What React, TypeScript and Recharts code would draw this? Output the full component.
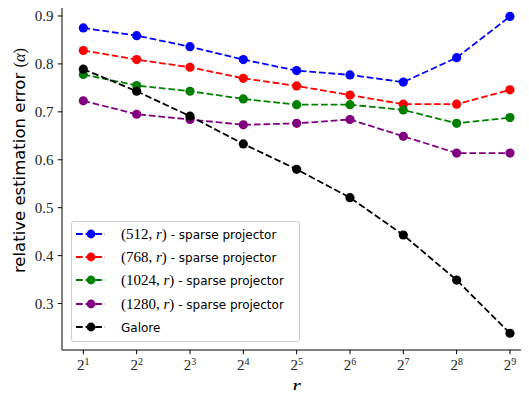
import React from 'react';
import { LineChart, Line, XAxis, YAxis, Legend } from 'recharts';

const exponents = [1, 2, 3, 4, 5, 6, 7, 8, 9];
const yTicks = [0.3, 0.4, 0.5, 0.6, 0.7, 0.8, 0.9];
const sparse512 = [0.875, 0.859, 0.836, 0.809, 0.786, 0.777, 0.762, 0.813, 0.899];
const sparse768 = [0.828, 0.809, 0.793, 0.770, 0.754, 0.735, 0.716, 0.716, 0.746];
const sparse1024 = [0.778, 0.755, 0.743, 0.727, 0.715, 0.715, 0.704, 0.676, 0.688];
const sparse1280 = [0.723, 0.695, 0.684, 0.673, 0.676, 0.684, 0.649, 0.614, 0.614];
const galore = [0.789, 0.743, 0.691, 0.633, 0.580, 0.521, 0.443, 0.349, 0.238];

const seriesKeys = ['s512', 's768', 's1024', 's1280', 'galore'];
const seriesDims = ['512', '768', '1024', '1280', ''];
const seriesColors = ['#0000ff', '#ff0000', '#008000', '#800080', '#000000'];
const seriesValues = [sparse512, sparse768, sparse1024, sparse1280, galore];

const data = exponents.map((e, i) => {
  const row: Record<string, number> = { e };
  seriesKeys.forEach((k, j) => {
    row[k] = seriesValues[j][i];
  });
  return row;
});

const Y_DOMAIN: [number, number] = [0.2031, 0.93125];
const X_DOMAIN: [number, number] = [0.6, 9.4];
const DASH = '6.7 2.9';
const SERIF = '"Liberation Serif", "DejaVu Serif", serif';
const SANS = '"DejaVu Sans", sans-serif';

const XTick = (props: any) => {
  const { x, y, payload } = props;
  return (
    <text x={x} y={y + 11.6} textAnchor="middle" fontFamily={SERIF} fontSize={15} fill="#222">
      <tspan>2</tspan>
      <tspan dy={-5.5} fontSize={10}>{payload.value}</tspan>
    </text>
  );
};

const YTick = (props: any) => {
  const { x, y, payload } = props;
  return (
    <text x={x} y={y + 5} textAnchor="end" fontFamily={SERIF} fontSize={15} fill="#222">
      {payload.value.toFixed(1)}
    </text>
  );
};

const renderLegend = () => (
  <div
    style={{
      boxSizing: 'border-box',
      width: 229,
      height: 121,
      border: '1px solid #cccccc',
      borderRadius: 3,
      background: 'rgba(255,255,255,0.8)',
      paddingLeft: 4,
      paddingTop: 0,
    }}
  >
    {seriesKeys.map((k, i) => (
      <div key={k} style={{ height: 23.4, display: 'flex', alignItems: 'center' }}>
        <svg width={29.3} height={12} style={{ display: 'block', flex: 'none' }}>
          <line x1={0} x2={29.3} y1={6} y2={6} stroke={seriesColors[i]} strokeWidth={1.8} strokeDasharray={DASH} />
          <circle cx={15} cy={6} r={4.4} fill={seriesColors[i]} />
        </svg>
        <span style={{ marginLeft: 15.7, whiteSpace: 'pre', color: '#000', lineHeight: 1 }}>
          {seriesDims[i] ? (
            <>
              <span style={{ fontFamily: SERIF, fontSize: 15 }}>
                ({seriesDims[i]}, <i>r</i>)
              </span>
              <span style={{ fontFamily: SANS, fontSize: 12 }}>{' - sparse projector'}</span>
            </>
          ) : (
            <span style={{ fontFamily: SANS, fontSize: 12 }}>Galore</span>
          )}
        </span>
      </div>
    ))}
  </div>
);

export default function App() {
  return (
    <div style={{ width: 529, height: 398, overflow: 'hidden', margin: -8, background: '#fff', position: 'relative' }}>
      <LineChart width={540} height={398} data={data} margin={{ top: 1, right: 8.7, bottom: 0, left: 0 }}>
        <XAxis
          dataKey="e"
          type="number"
          domain={X_DOMAIN}
          ticks={exponents}
          tick={<XTick />}
          tickSize={4.2}
          tickMargin={4.2}
          height={48}
          axisLine={{ stroke: '#000', strokeWidth: 1 }}
          tickLine={{ stroke: '#000', strokeWidth: 1 }}
          allowDataOverflow
          label={{
            content: (p: any) => {
              const vb = p.viewBox;
              return (
                <text x={vb.x + vb.width / 2} y={393} textAnchor="middle" fontFamily={SERIF} fontStyle="italic" fontSize={22} fill="#000">
                  r
                </text>
              );
            },
          }}
        />
        <XAxis
          xAxisId="frameTop"
          orientation="top"
          dataKey="e"
          type="number"
          domain={X_DOMAIN}
          ticks={exponents}
          tick={false}
          tickLine={false}
          height={0}
          axisLine={{ stroke: '#000', strokeWidth: 1 }}
          allowDataOverflow
        />
        <YAxis
          type="number"
          domain={Y_DOMAIN}
          ticks={yTicks}
          tick={<YTick />}
          tickSize={4.2}
          tickMargin={4.3}
          width={62}
          axisLine={{ stroke: '#000', strokeWidth: 1 }}
          tickLine={{ stroke: '#000', strokeWidth: 1 }}
          allowDataOverflow
          label={{
            content: () => (
              <text transform="translate(25,160.5) rotate(-90)" x={0} y={0} textAnchor="middle" fontFamily={SANS} fontSize={16.5} fill="#000">
                relative estimation error{' '}
                <tspan fontFamily={SERIF}>(</tspan>
                <tspan fontFamily={SERIF} fontStyle="italic">α</tspan>
                <tspan fontFamily={SERIF}>)</tspan>
              </text>
            ),
          }}
        />
        {seriesKeys.map((k, i) => (
          <Line
            key={k}
            dataKey={k}
            name={k}
            type="linear"
            stroke={seriesColors[i]}
            strokeWidth={1.8}
            strokeDasharray={DASH}
            dot={{ r: 4.6, fill: seriesColors[i], stroke: seriesColors[i], strokeWidth: 0, strokeDasharray: '' }}
            activeDot={false}
            isAnimationActive={false}
          />
        ))}
        <Legend
          layout="vertical"
          align="center"
          verticalAlign="middle"
          content={renderLegend}
          wrapperStyle={{ left: 71, top: 221, width: 229, height: 121 }}
        />
      </LineChart>
    </div>
  );
}
